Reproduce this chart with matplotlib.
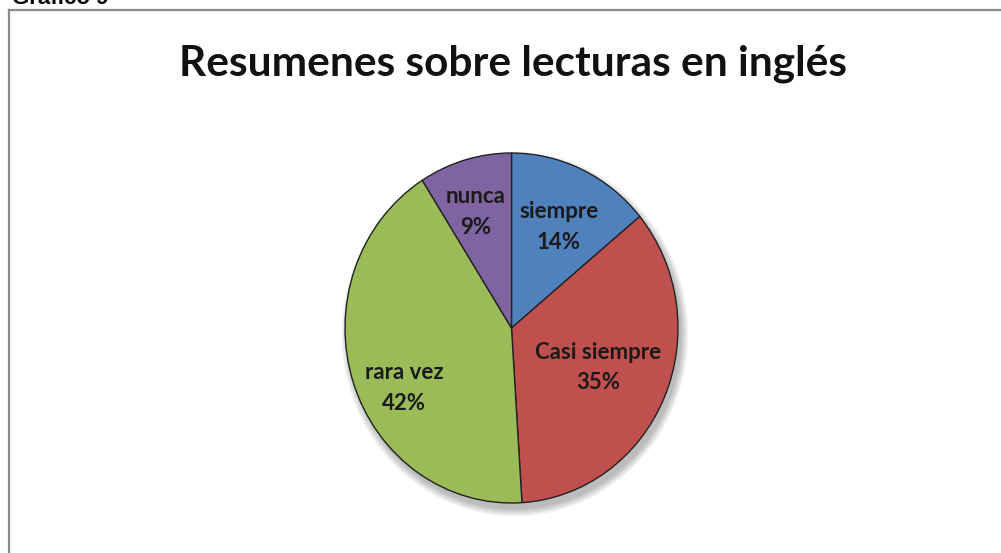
import numpy as np
import matplotlib.pyplot as plt
from matplotlib.patches import Ellipse
from matplotlib.lines import Line2D

categories = ['siempre', 'Casi siempre', 'rara vez', 'nunca']
shares = [14, 35, 42, 9]
colors = ['#4F81BD', '#C0504D', '#9BBB59', '#8064A2']
title = 'Resumenes sobre lecturas en inglés'
caption = 'Gráfico 9'

# label placement inside each wedge (radius fraction, angle tweak in degrees)
label_r = [0.644, 0.568, 0.731, 0.698]
label_dang = [-1, 0, 10, 2]

W, H = 1001, 553
fig = plt.figure(figsize=(W / 100, H / 100), dpi=100)
fig.patch.set_facecolor('white')

# frame (only top and left edges are visible in the crop)
fig.add_artist(Line2D([9 / W, 9 / W], [0, 1 - 10 / H], transform=fig.transFigure,
                      color='#8a8a8a', lw=1.6))
fig.add_artist(Line2D([9 / W, 1], [1 - 10 / H, 1 - 10 / H], transform=fig.transFigure,
                      color='#8a8a8a', lw=1.6))

# caption is cut off by the top edge, as in the source picture
fig.text(12 / W, 1 - 4 / H, caption, fontsize=16, fontweight='bold',
         family='Liberation Sans', va='baseline', ha='left')
fig.text(513 / W, 1 - 64 / H, title, fontsize=30.5, fontweight='bold',
         family='Lato', ha='center', va='center', color='#111111')

cx, cy, rx, ry = 511.5, 328, 166.5, 175
lim = 1.2
ax = fig.add_axes([(cx - lim * rx) / W, (H - cy - lim * ry) / H,
                   2 * lim * rx / W, 2 * lim * ry / H])

# soft drop shadow
for i in range(8):
    ax.add_patch(Ellipse((0.02, -0.035), 2.0 + 0.012 * i, 2.0 + 0.012 * i,
                         color='black', alpha=0.035, lw=0, zorder=0))

wedges, _ = ax.pie(shares, colors=colors, startangle=90, counterclock=False,
                   radius=1.0, wedgeprops=dict(edgecolor='#222222', linewidth=1.0),
                   frame=True)
ax.set_xlim(-lim, lim)
ax.set_ylim(-lim, lim)
ax.set_aspect('auto')
ax.axis('off')

for w, name, v, r, da in zip(wedges, categories, shares, label_r, label_dang):
    ang = np.deg2rad((w.theta1 + w.theta2) / 2 + da)
    ax.text(r * np.cos(ang), r * np.sin(ang), '{}\n{}%'.format(name, v),
            ha='center', va='center', fontsize=16, fontweight='bold',
            family='Lato', color='#1a1a1a', linespacing=1.55)

fig.savefig('out.png', dpi=100, facecolor='white')
